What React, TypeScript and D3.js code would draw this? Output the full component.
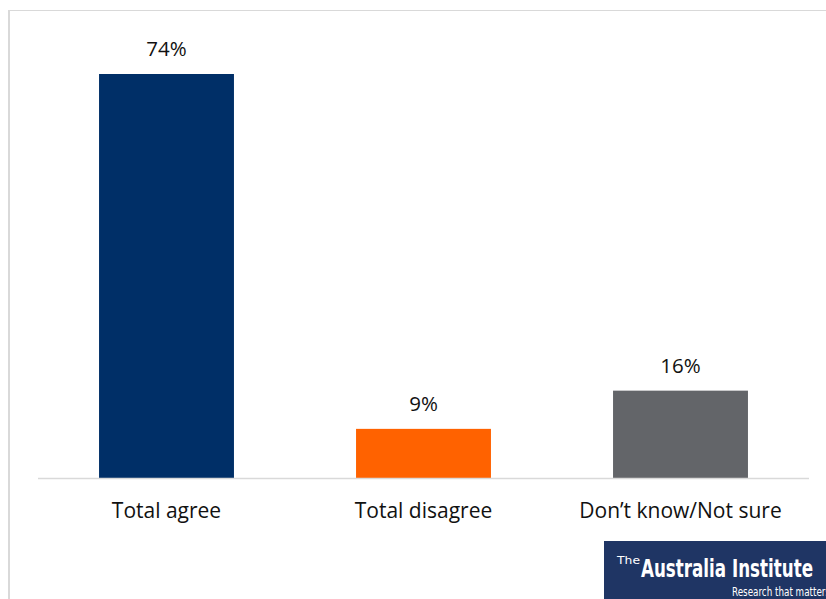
import React from "react";
import * as d3 from "d3";

const categories = ["Total agree", "Total disagree", "Don\u2019t know/Not sure"];
const values = [74, 9, 16];
const barColors = ["#002f67", "#ff6200", "#636569"];
const valueLabels = ["74%", "9%", "16%"];

const W = 826;
const H = 599;

export default function App() {
  const x = d3
    .scaleBand<string>()
    .domain(categories)
    .range([38, 809])
    .paddingInner(0.475)
    .paddingOuter(0.2375);
  const y = d3.scaleLinear().domain([0, 74]).range([478, 74]);
  const font = "'Open Sans', 'Noto Sans', sans-serif";
  const logoFont = "'DejaVu Sans Condensed', 'Liberation Sans Narrow', sans-serif";

  return (
    <svg
      width={W}
      height={H}
      style={{ position: "absolute", left: 0, top: 0, background: "#fff" }}
    >
      <rect x={0} y={0} width={W} height={H} fill="#fff" />
      {/* frame */}
      <line x1={8} x2={W} y1={10.5} y2={10.5} stroke="#d9d9d9" strokeWidth={1} />
      <line x1={9} x2={9} y1={10} y2={H} stroke="#d9d9d9" strokeWidth={2} />
      {/* bars */}
      {categories.map((c, i) => (
        <rect
          key={c}
          x={x(c)}
          y={y(values[i])}
          width={x.bandwidth()}
          height={y(0) - y(values[i])}
          fill={barColors[i]}
        />
      ))}
      {/* baseline */}
      <line x1={38} x2={809} y1={478.5} y2={478.5} stroke="#d9d9d9" strokeWidth={1.5} />
      {/* value labels */}
      {categories.map((c, i) => (
        <text
          key={"v" + c}
          x={(x(c) as number) + x.bandwidth() / 2}
          y={y(values[i]) - 18}
          textAnchor="middle"
          fontFamily={font}
          fontSize={20.5}
          fill="#111"
        >
          {valueLabels[i]}
        </text>
      ))}
      {/* category labels */}
      {categories.map((c) => (
        <text
          key={"c" + c}
          x={(x(c) as number) + x.bandwidth() / 2}
          y={518}
          textAnchor="middle"
          fontFamily={font}
          fontSize={21}
          fill="#111"
        >
          {c}
        </text>
      ))}
      {/* logo */}
      <g>
        <rect x={604} y={541} width={W - 604} height={H - 541} fill="#1f3564" />
        <text
          x={617}
          y={564}
          fontFamily={logoFont}
          fontSize={10}
          fill="#fff"
          textLength={23}
          lengthAdjust="spacingAndGlyphs"
        >
          The
        </text>
        <text
          x={641}
          y={577}
          fontFamily={logoFont}
          fontSize={25}
          fontWeight={600}
          fill="#fff"
          textLength={172}
          lengthAdjust="spacingAndGlyphs"
        >
          Australia Institute
        </text>
        <text
          x={732}
          y={596}
          fontFamily={logoFont}
          fontSize={12}
          fill="#fff"
          textLength={98}
          lengthAdjust="spacingAndGlyphs"
        >
          Research that matters
        </text>
      </g>
    </svg>
  );
}
